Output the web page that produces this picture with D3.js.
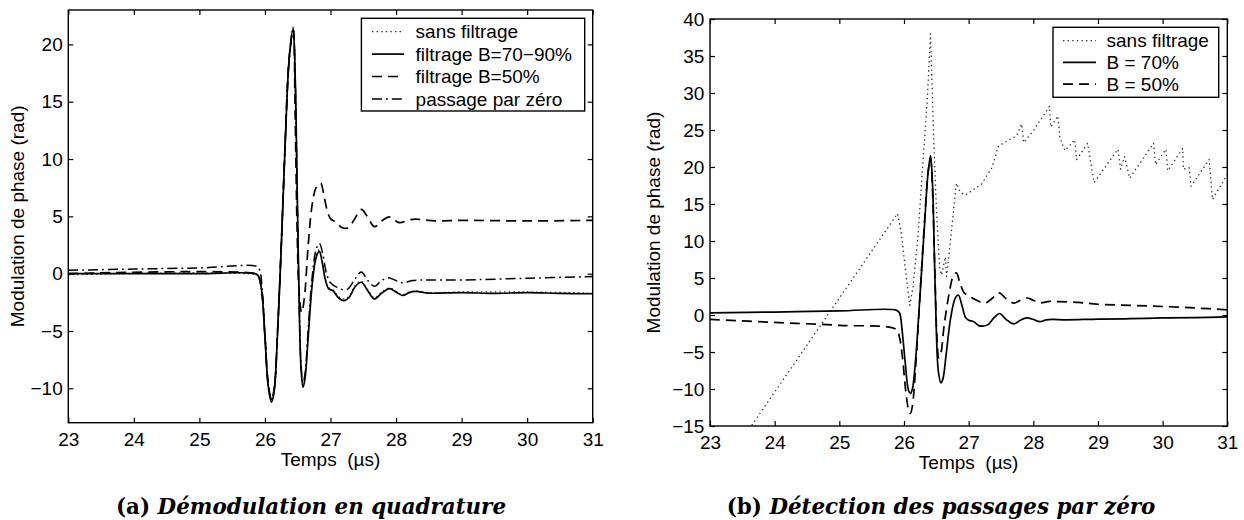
<!DOCTYPE html>
<html>
<head>
<meta charset="utf-8">
<script src="https://cdn.jsdelivr.net/npm/d3@7"></script>
<style>
  html, body { margin: 0; padding: 0; background: #fff; }
  svg { display: block; }
</style>
</head>
<body>
<svg id="chart" width="1244" height="520"></svg>
<script>
// ---------------- DATA ----------------
const xTicks = [23, 24, 25, 26, 27, 28, 29, 30, 31];
const aYTicks = [-10, -5, 0, 5, 10, 15, 20];
const bYTicks = [-15, -10, -5, 0, 5, 10, 15, 20, 25, 30, 35, 40];

const aLegend = ["sans filtrage", "filtrage B=70\u221290%", "filtrage B=50%", "passage par z\u00e9ro"];
const bLegend = ["sans filtrage", "B = 70%", "B = 50%"];

const xLabel = "Temps  (\u00b5s)";
const yLabel = "Modulation de phase (rad)";
const aCaption = ["(a)", "D\u00e9modulation en quadrature"];
const bCaption = ["(b)", "D\u00e9tection des passages par z\u00e9ro"];

// (a) Démodulation en quadrature : [temps µs, phase rad]
const aSans = [[23,-0.1],[25.85,-0.1],[25.9,-0.3],[25.95,-1.6],[26.0,-5.6],[26.05,-9.9],[26.1,-11.1],[26.14,-10.2],[26.19,-5.4],[26.25,2.6],[26.31,11.6],[26.37,18.9],[26.43,21.5],[26.46,17.6],[26.49,8.2],[26.52,-1.8],[26.55,-7.9],[26.58,-9.4],[26.61,-8.9],[26.66,-5.2],[26.72,-0.8],[26.78,1.6],[26.83,2.1],[26.87,1.2],[26.92,-0.4],[26.97,-1.2],[27.04,-1.4],[27.12,-2.0],[27.2,-2.2],[27.28,-2.0],[27.38,-1.0],[27.47,-0.65],[27.57,-1.4],[27.67,-2.1],[27.78,-1.6],[27.9,-1.25],[28.0,-1.55],[28.1,-1.85],[28.2,-1.6],[28.3,-1.5],[28.5,-1.65],[29,-1.6],[30,-1.6],[31,-1.7]];
const aSolid = [[23,0],[24,0],[25,0],[25.85,0],[25.9,-0.2],[25.95,-1.5],[26.0,-5.5],[26.05,-9.8],[26.1,-11.2],[26.14,-10.3],[26.19,-5.5],[26.25,2.5],[26.31,11.5],[26.37,18.8],[26.43,21.4],[26.46,17.5],[26.49,8],[26.52,-2],[26.55,-8.2],[26.58,-9.9],[26.61,-9.2],[26.66,-5.5],[26.72,-1],[26.78,1.4],[26.83,1.95],[26.87,1.1],[26.92,-0.5],[26.97,-1.3],[27.04,-1.5],[27.12,-2.1],[27.2,-2.35],[27.28,-2.1],[27.38,-1.1],[27.47,-0.75],[27.57,-1.5],[27.67,-2.2],[27.78,-1.7],[27.9,-1.3],[28.0,-1.6],[28.1,-1.9],[28.2,-1.65],[28.3,-1.55],[28.5,-1.7],[29,-1.65],[29.5,-1.72],[30,-1.65],[30.5,-1.72],[31,-1.75]];
const aDashed = [[23,0],[25.85,0],[25.9,-0.2],[25.95,-1.5],[26.0,-5.4],[26.05,-9.6],[26.1,-11.0],[26.14,-10.1],[26.19,-5.3],[26.25,2.7],[26.31,11.7],[26.37,18.9],[26.43,21.3],[26.46,14],[26.49,4],[26.52,-1.5],[26.56,-3.4],[26.6,-2.2],[26.66,2.5],[26.72,6],[26.78,7.5],[26.85,7.9],[26.9,6.8],[26.95,5.5],[27.0,4.8],[27.08,4.5],[27.18,4.0],[27.27,4.0],[27.37,4.8],[27.47,5.6],[27.56,5.0],[27.67,4.1],[27.78,4.6],[27.9,4.95],[28.05,4.45],[28.2,4.7],[28.3,4.75],[28.6,4.6],[29,4.65],[30,4.6],[31,4.65]];
const aDashDot = [[23,0.3],[24,0.4],[25,0.5],[25.88,0.62],[25.92,0.3],[25.96,-1.5],[26.0,-5.3],[26.05,-9.6],[26.1,-11.0],[26.14,-10.1],[26.19,-5.4],[26.25,2.5],[26.31,11.4],[26.37,18.6],[26.43,21.2],[26.46,17.3],[26.49,7.8],[26.52,-2],[26.55,-7.9],[26.58,-9.5],[26.61,-8.8],[26.66,-4.8],[26.72,-0.3],[26.78,2.1],[26.83,2.65],[26.88,1.8],[26.94,0],[27.0,-0.8],[27.1,-1.2],[27.25,-1.4],[27.37,-0.5],[27.47,0.15],[27.57,-0.6],[27.67,-1.1],[27.78,-0.6],[27.88,-0.35],[28.0,-0.6],[28.1,-0.8],[28.25,-0.6],[28.5,-0.55],[29,-0.55],[30,-0.4],[31,-0.25]];

// (b) Détection des passages par zéro
const bSans = [[23,-23.1],[25.9,13.7],[25.96,11.0],[26.01,7.0],[26.06,3.4],[26.09,1.3],[26.14,3.8],[26.22,11],[26.28,19.1],[26.36,29],[26.41,38],[26.46,23.6],[26.5,14.6],[26.55,6.5],[26.58,5.4],[26.62,7.0],[26.64,7.85],[26.66,5.2],[26.73,11],[26.81,17.8],[26.87,16.6],[26.95,16.2],[27.2,17.7],[27.36,19.9],[27.46,22.8],[27.59,23.5],[27.74,24.2],[27.82,25.8],[27.85,23.3],[28.0,24.9],[28.25,28.2],[28.27,25.4],[28.38,26.9],[28.41,24.0],[28.49,22.2],[28.64,23.7],[28.67,21.0],[28.84,23.2],[28.94,17.9],[29.31,22.4],[29.35,19.7],[29.41,21.4],[29.49,18.5],[29.86,23.2],[29.89,20.3],[30.05,22.4],[30.08,19.5],[30.31,22.5],[30.32,19.7],[30.41,19.9],[30.44,17.4],[30.72,21.0],[30.77,15.6],[31.0,19.0]];
const bSolid = [[23,0.3],[24,0.4],[25,0.55],[25.88,0.66],[25.93,0.3],[25.97,-2],[26.02,-6.5],[26.07,-10.2],[26.1,-10.6],[26.13,-10],[26.18,-6],[26.25,3],[26.32,12.5],[26.37,19],[26.41,21.5],[26.44,18],[26.47,8],[26.5,-2],[26.53,-7.5],[26.57,-9.15],[26.6,-8.7],[26.65,-5.5],[26.72,-0.5],[26.79,2.2],[26.84,2.7],[26.89,1.5],[26.95,-0.3],[27.0,-0.7],[27.08,-0.9],[27.15,-1.4],[27.22,-1.5],[27.3,-1.3],[27.4,-0.3],[27.48,0.2],[27.58,-0.6],[27.7,-1.2],[27.8,-0.7],[27.9,-0.4],[28.0,-0.6],[28.1,-0.9],[28.2,-0.65],[28.3,-0.6],[28.5,-0.65],[29,-0.55],[29.5,-0.5],[30,-0.4],[30.5,-0.35],[31,-0.25]];
const bDashed = [[23,-0.6],[24,-1.0],[25,-1.4],[25.88,-1.95],[25.93,-3],[25.98,-6],[26.03,-10.5],[26.08,-13.1],[26.1,-13.3],[26.13,-12.3],[26.18,-7],[26.25,3],[26.32,13],[26.37,19],[26.41,21.2],[26.44,17],[26.48,5],[26.51,-3],[26.54,-5.8],[26.57,-5.2],[26.62,-1.5],[26.7,3],[26.76,5.2],[26.81,5.7],[26.86,4.5],[26.93,3.0],[27.0,2.6],[27.1,2.1],[27.25,1.6],[27.37,2.3],[27.47,3.0],[27.58,2.2],[27.7,1.6],[27.8,2.0],[27.9,2.3],[28.0,2.0],[28.1,1.65],[28.25,1.85],[28.4,1.8],[28.7,1.7],[29,1.45],[29.5,1.3],[30,1.15],[30.5,0.95],[31,0.7]];

// ---------------- DRAWING ----------------
const svg = d3.select("#chart");
const FONT = "'Liberation Sans', Arial, Helvetica, sans-serif";
const FS = 19;

const STYLES = {
  dotted:  { dash: "1.4,3.2", width: 1.3, color: "#333", linecap: "butt" },
  solid:   { dash: null,      width: 1.7, color: "#000", linecap: "round" },
  dashed:  { dash: "10,6",    width: 1.7, color: "#000", linecap: "butt" },
  dashdot: { dash: "10,4,1.8,4", width: 1.5, color: "#000", linecap: "butt" }
};

function panel(cfg) {
  const x = d3.scaleLinear().domain([23, 31]).range([cfg.x0, cfg.x1]);
  const y = d3.scaleLinear().domain(cfg.yDomain).range([cfg.y1, cfg.y0]);
  const g = svg.append("g");
  const clipId = "clip" + cfg.id;
  svg.append("clipPath").attr("id", clipId).append("rect")
    .attr("x", cfg.x0).attr("y", cfg.y0).attr("width", cfg.x1 - cfg.x0).attr("height", cfg.y1 - cfg.y0);

  // series
  const lines = g.append("g").attr("clip-path", `url(#${clipId})`);
  cfg.series.forEach(s => {
    const st = STYLES[s.style];
    const gen = d3.line().x(d => x(d[0])).y(d => y(d[1]))
      .curve(s.linear ? d3.curveLinear : d3.curveCatmullRom.alpha(0.5));
    lines.append("path").datum(s.data)
      .attr("d", gen).attr("fill", "none")
      .attr("stroke", st.color).attr("stroke-width", st.width)
      .attr("stroke-dasharray", st.dash).attr("stroke-linecap", st.linecap)
      .attr("stroke-linejoin", "round");
  });

  // axes (ticks inward on all 4 sides)
  const ax = g.append("g").attr("font-family", FONT);
  const bottom = ax.append("g").attr("transform", `translate(0,${cfg.y1})`)
    .call(d3.axisBottom(x).tickValues(xTicks).tickSize(-5).tickPadding(9.8).tickFormat(d3.format("d")));
  const top = ax.append("g").attr("transform", `translate(0,${cfg.y0})`)
    .call(d3.axisTop(x).tickValues(xTicks).tickSize(-5).tickFormat(""));
  const left = ax.append("g").attr("transform", `translate(${cfg.x0},0)`)
    .call(d3.axisLeft(y).tickValues(cfg.yTicks).tickSize(-5).tickPadding(5.6).tickFormat(d3.format("d")));
  const right = ax.append("g").attr("transform", `translate(${cfg.x1},0)`)
    .call(d3.axisRight(y).tickValues(cfg.yTicks).tickSize(-5).tickFormat(""));
  [bottom, top, left, right].forEach(a => {
    a.select(".domain").remove();
    a.selectAll("line").attr("stroke", "#000").attr("stroke-width", 1.2);
    a.selectAll("text").attr("font-size", FS).attr("fill", "#000").attr("font-family", FONT);
  });
  ax.append("rect").attr("x", cfg.x0).attr("y", cfg.y0)
    .attr("width", cfg.x1 - cfg.x0).attr("height", cfg.y1 - cfg.y0)
    .attr("fill", "none").attr("stroke", "#000").attr("stroke-width", 1.4);

  // axis labels
  g.append("text").text(xLabel)
    .attr("x", (cfg.x0 + cfg.x1) / 2).attr("y", cfg.y1 + 43)
    .attr("text-anchor", "middle").attr("font-family", FONT).attr("font-size", FS)
    .style("white-space", "pre");
  g.append("text").text(yLabel)
    .attr("transform", `translate(${cfg.yLabelX},${(cfg.y0 + cfg.y1) / 2}) rotate(-90)`)
    .attr("text-anchor", "middle").attr("dy", "0.35em")
    .attr("font-family", FONT).attr("font-size", FS);

  // legend
  const L = cfg.legend;
  const lg = g.append("g");
  lg.append("rect").attr("x", L.x0).attr("y", L.y0).attr("width", L.x1 - L.x0).attr("height", L.y1 - L.y0)
    .attr("fill", "#fff").attr("stroke", "#000").attr("stroke-width", 1.4);
  L.labels.forEach((lab, i) => {
    const st = STYLES[L.styles[i]];
    const yy = L.firstRow + i * L.rowStep;
    lg.append("line").attr("x1", L.sx0).attr("x2", L.sx1).attr("y1", yy).attr("y2", yy)
      .attr("stroke", st.color).attr("stroke-width", st.width)
      .attr("stroke-dasharray", st.dash).attr("stroke-linecap", "butt");
    lg.append("text").text(lab).attr("x", L.tx).attr("y", yy).attr("dy", "0.35em")
      .attr("font-family", FONT).attr("font-size", FS);
  });
}

panel({
  id: "a", x0: 68.3, x1: 592.7, y0: 10, y1: 422.7, yDomain: [-13, 23], yTicks: aYTicks, yLabelX: 17.6,
  series: [
    { data: aSans, style: "dotted" },
    { data: aSolid, style: "solid" },
    { data: aDashed, style: "dashed" },
    { data: aDashDot, style: "dashdot" }
  ],
  legend: { x0: 361.4, x1: 584.7, y0: 18.3, y1: 111, firstRow: 31.7, rowStep: 22.4,
            sx0: 372, sx1: 404, tx: 415.6, labels: aLegend, styles: ["dotted", "solid", "dashed", "dashdot"] }
});

panel({
  id: "b", x0: 710, x1: 1227.3, y0: 19, y1: 426, yDomain: [-15, 40], yTicks: bYTicks, yLabelX: 653.7,
  series: [
    { data: bSans, style: "dotted", linear: true },
    { data: bSolid, style: "solid" },
    { data: bDashed, style: "dashed" }
  ],
  legend: { x0: 1053, x1: 1218.7, y0: 27.3, y1: 97.3, firstRow: 40.7, rowStep: 21.7,
            sx0: 1063, sx1: 1096, tx: 1106.5, labels: bLegend, styles: ["dotted", "solid", "dashed"] }
});

// captions
function caption(parts, cx, cy, size) {
  const t = svg.append("text").attr("x", cx).attr("y", cy).attr("text-anchor", "middle")
    .attr("font-family", "'DejaVu Serif', 'Liberation Serif', serif").attr("font-weight", "bold")
    .attr("font-size", size).style("white-space", "pre");
  t.append("tspan").text(parts[0] + " ");
  t.append("tspan").attr("font-style", "italic").text(parts[1]);
  return t;
}
const probe = caption(bCaption, 941, 514, 20);
const w = probe.node().getComputedTextLength();
const capSize = 20 * 429 / w;
probe.remove();
caption(aCaption, 311, 514, capSize);
caption(bCaption, 941, 514, capSize);
</script>
</body>
</html>
